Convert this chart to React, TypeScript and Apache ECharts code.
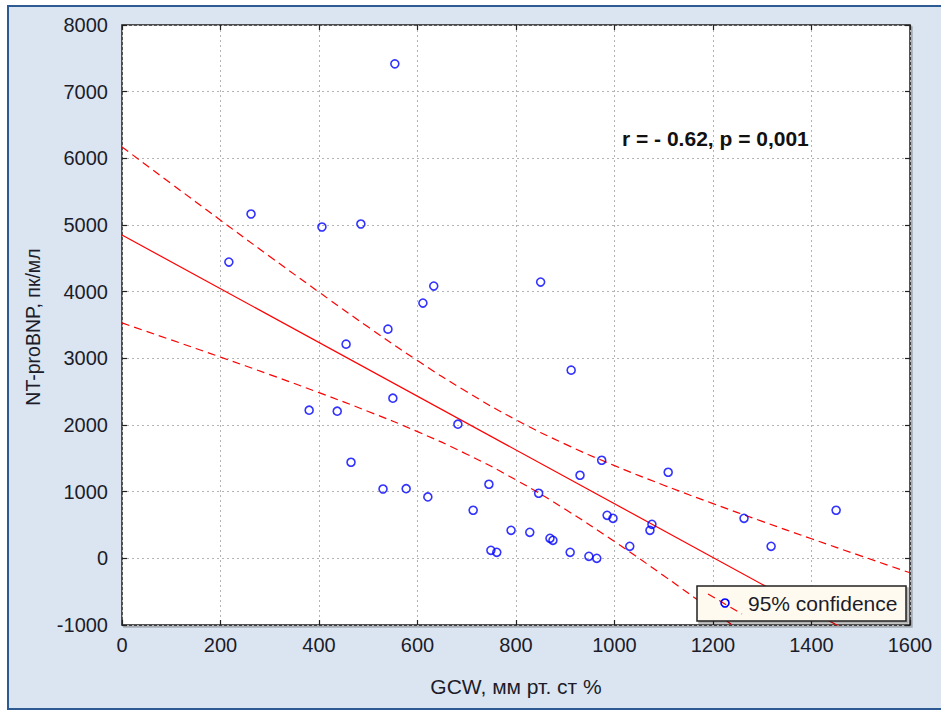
import React, { useEffect, useRef } from "react";
import * as echarts from "echarts";

// Measured GCW (mm Hg %) vs NT-proBNP (pg/ml)
const gcw = [
  217, 262, 380, 406, 437, 455, 465, 485, 530, 540, 550, 554, 577, 611, 621,
  633, 682, 713, 745, 749, 761, 790, 828, 846, 850, 869, 875, 910, 912, 930,
  948, 964, 974, 985, 997, 1031, 1072, 1076, 1109, 1263, 1318, 1450,
];
const ntProBnp = [
  4444, 5165, 2222, 4970, 2207, 3213, 1441, 5015, 1040, 3438, 2402, 7417, 1045,
  3829, 921, 4084, 2012, 721, 1111, 120, 90, 420, 390, 976, 4144, 300, 270, 90,
  2823, 1246, 30, 0, 1471, 645, 600, 180, 420, 510, 1291, 600, 180, 721,
];

// Regression line end points
const regX = [0, 1600];
const regY = [4850, -1600];

// 95% confidence band
const bandX = [0, 100, 200, 300, 400, 500, 600, 700, 800, 900, 1000, 1100, 1200, 1300, 1400, 1500, 1600];
const bandUpper = [6171, 5620, 5072, 4528, 3993, 3469, 2966, 2498, 2078, 1713, 1391, 1097, 821, 554, 293, 37, -217];
const bandLower = [3531, 3276, 3018, 2756, 2485, 2203, 1900, 1562, 1176, 735, 251, -261, -791, -1330];

const xTicks = { min: 0, max: 1600, interval: 200 };
const yTicks = { min: -1000, max: 8000, interval: 1000 };

const statText = "r = - 0.62, p = 0,001";
const legendText = "95% confidence";
const xTitle = "GCW, мм рт. ст %";
const yTitle = "NT-proBNP, пк/мл";

const FONT = "Arial, 'Liberation Sans', sans-serif";
const TEXT_COLOR = "#1c1c2a";

export default function App() {
  const ref = useRef<HTMLDivElement>(null);

  useEffect(() => {
    if (!ref.current) return;
    const chart = echarts.init(ref.current, undefined, { renderer: "svg" });

    const gridLeft = 122;
    const gridTop = 25;
    const gridW = 788;
    const gridH = 600;

    const splitLine = {
      show: true,
      lineStyle: { color: "#b4b4b4", width: 1, type: [2, 3] as number[] },
    };
    const innerTick = {
      show: true,
      inside: true,
      length: 5,
      lineStyle: { color: "#222", width: 1.2 },
    };
    const hiddenLine = { show: false, onZero: false };
    const plainNumber = (v: number) => String(v);

    chart.setOption({
      animation: false,
      backgroundColor: "transparent",
      grid: {
        left: gridLeft,
        top: gridTop,
        width: gridW,
        height: gridH,
        show: true,
        backgroundColor: "#ffffff",
        borderColor: "#1a1a1a",
        borderWidth: 1.5,
        shadowColor: "rgba(0,0,0,0.25)",
        shadowOffsetX: 2,
        shadowOffsetY: 2,
        shadowBlur: 1,
      },
      xAxis: [
        {
          type: "value",
          ...xTicks,
          axisLine: hiddenLine,
          axisTick: innerTick,
          splitLine,
          axisLabel: {
            margin: 10,
            fontSize: 20,
            fontFamily: FONT,
            color: TEXT_COLOR,
            formatter: plainNumber,
          },
        },
        {
          type: "value",
          position: "top",
          ...xTicks,
          axisLine: hiddenLine,
          axisTick: innerTick,
          splitLine: { show: false },
          axisLabel: { show: false },
        },
      ],
      yAxis: [
        {
          type: "value",
          ...yTicks,
          axisLine: hiddenLine,
          axisTick: innerTick,
          splitLine,
          axisLabel: {
            margin: 14,
            fontSize: 20,
            fontFamily: FONT,
            color: TEXT_COLOR,
            formatter: plainNumber,
          },
        },
        {
          type: "value",
          position: "right",
          ...yTicks,
          axisLine: hiddenLine,
          axisTick: innerTick,
          splitLine: { show: false },
          axisLabel: { show: false },
        },
      ],
      series: [
        {
          name: "upper",
          type: "line",
          data: bandX.map((x, i) => [x, bandUpper[i]]),
          smooth: true,
          symbol: "none",
          clip: true,
          lineStyle: { color: "#ff0000", width: 1.2, type: [8, 5] },
          z: 3,
        },
        {
          name: "lower",
          type: "line",
          data: bandLower.map((y, i) => [bandX[i], y]),
          smooth: true,
          symbol: "none",
          clip: true,
          lineStyle: { color: "#ff0000", width: 1.2, type: [8, 5] },
          z: 3,
        },
        {
          name: "fit",
          type: "line",
          data: regX.map((x, i) => [x, regY[i]]),
          symbol: "none",
          clip: true,
          lineStyle: { color: "#ff0000", width: 1.2 },
          z: 3,
        },
        {
          name: "points",
          type: "scatter",
          data: gcw.map((x, i) => [x, ntProBnp[i]]),
          symbol: "circle",
          symbolSize: 8,
          itemStyle: {
            color: "rgba(255,255,255,0)",
            borderColor: "#0000ff",
            borderWidth: 1.6,
          },
          z: 4,
        },
      ],
      graphic: [
        {
          type: "text",
          left: 622,
          top: 128,
          z: 100,
          style: {
            text: statText,
            font: `bold 21px ${FONT}`,
            fill: "#111",
          },
        },
        {
          type: "text",
          x: 516,
          y: 686,
          z: 100,
          style: {
            text: xTitle,
            font: `21px ${FONT}`,
            fill: TEXT_COLOR,
            align: "center",
            verticalAlign: "middle",
          },
        },
        {
          type: "text",
          x: 33,
          y: 327,
          rotation: Math.PI / 2,
          z: 100,
          style: {
            text: yTitle,
            font: `19.5px ${FONT}`,
            fill: TEXT_COLOR,
            align: "center",
            verticalAlign: "middle",
          },
        },
        {
          type: "group",
          z: 100,
          children: [
            {
              type: "rect",
              z: 100,
              shape: { x: 697, y: 586, width: 209, height: 35 },
              style: {
                fill: "#fffaf0",
                stroke: "#222",
                lineWidth: 1.5,
                shadowColor: "rgba(0,0,0,0.3)",
                shadowOffsetX: 2,
                shadowOffsetY: 2,
                shadowBlur: 1,
              },
            },
            {
              type: "line",
              z: 101,
              shape: { x1: 708, y1: 594, x2: 742, y2: 614 },
              style: { stroke: "#ff0000", lineWidth: 1.2, lineDash: [8, 5] },
            },
            {
              type: "circle",
              z: 102,
              shape: { cx: 725, cy: 603, r: 4 },
              style: { fill: "none", stroke: "#0000ff", lineWidth: 1.6 },
            },
            {
              type: "text",
              z: 102,
              x: 748,
              y: 603,
              style: {
                text: legendText,
                font: `21px ${FONT}`,
                fill: TEXT_COLOR,
                verticalAlign: "middle",
              },
            },
          ],
        },
      ],
    });

    return () => chart.dispose();
  }, []);

  return (
    <div
      style={{
        position: "fixed",
        left: 0,
        top: 0,
        width: 941,
        height: 713,
        background: "#ffffff",
        overflow: "hidden",
      }}
    >
      <div
        style={{
          position: "absolute",
          left: 7,
          top: 5,
          width: 941,
          height: 705,
          background: "#dbe5f1",
          borderTop: "2px solid #2d5a92",
          borderLeft: "2px solid #2d5a92",
          borderBottom: "2px solid #2d5a92",
          boxSizing: "border-box",
        }}
      />
      <div
        ref={ref}
        style={{ position: "absolute", left: 0, top: 0, width: 941, height: 713 }}
      />
    </div>
  );
}
